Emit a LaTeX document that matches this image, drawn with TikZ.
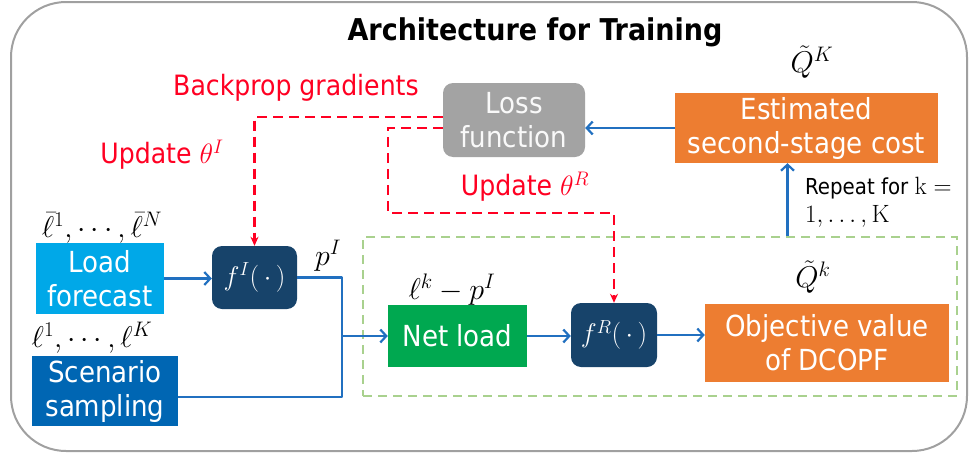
\RequirePackage{fix-cm}
\documentclass[tikz,border=0pt]{standalone}
\usepackage[no-math]{fontspec}
\setmainfont{DejaVu Sans Condensed}
\usetikzlibrary{arrows.meta}

\definecolor{lightblu}{HTML}{00A8E8}
\definecolor{darkblu}{HTML}{0066B3}
\definecolor{navy}{HTML}{17436A}
\definecolor{netgreen}{HTML}{00A850}
\definecolor{orng}{HTML}{ED7D31}
\definecolor{lossgray}{HTML}{A3A3A3}
\definecolor{arrblue}{HTML}{2170C0}
\definecolor{bpred}{HTML}{FF0022}
\definecolor{loopgreen}{HTML}{A9D18E}
\definecolor{framegray}{HTML}{A0A0A0}

\begin{document}
\begin{tikzpicture}
      [x=1pt,y=-1pt,
      %%%%%%%%%%%%%%%%%%%%%%%%%%%%%%
      blk/.style={rectangle,text=white,inner sep=0pt,align=center,
        font=\fontsize{29}{34}\selectfont},
      rblk/.style={blk,rounded corners=10pt},
      mathlbl/.style={inner sep=0pt,font=\fontsize{30}{34}\selectfont},
      redlbl/.style={inner sep=0pt,text=bpred,font=\fontsize{28}{32}\selectfont},
      flow/.style={draw=arrblue,line width=2.2pt,
        -{Straight Barb[length=6pt,width=13pt]}},
      grad/.style={draw=bpred,line width=2.2pt,dash pattern=on 10pt off 6pt,
        -{Stealth[length=9pt,width=8pt]}},
      ]%%%%%%%%%%%%%%%%%%%%%%%%%%%%%%
      \useasboundingbox (0,0) rectangle (970,458);
      \draw[framegray,line width=2pt,rounded corners=55pt] (11,2) rectangle (967,451);

      \node[inner sep=0pt,font=\fontsize{30}{34}\selectfont\bfseries] (title) at (535,32) {Architecture for Training};

      % loop over scenarios
      \node[rectangle,draw=loopgreen,line width=1.6pt,dash pattern=on 9pt off 6pt,
        minimum width=594pt,minimum height=159pt] (loop) at (660,316.5) {};

      \node[blk,fill=lightblu,minimum width=128pt,minimum height=71pt] (load) at (100,278.5) {Load\\forecast};
      \node[blk,fill=darkblu,minimum width=146pt,minimum height=70pt] (scen) at (105,391) {Scenario\\sampling};
      \node[rblk,fill=navy,minimum width=85pt,minimum height=63pt,font=\fontsize{27}{32}\selectfont] (fI) at (254.5,277.5) {$f^I(\,\cdot\,)$};
      \node[blk,fill=netgreen,minimum width=139pt,minimum height=62pt] (net) at (457.5,336) {Net load};
      \node[rblk,fill=navy,minimum width=86pt,minimum height=64pt,font=\fontsize{27}{32}\selectfont] (fR) at (614,335) {$f^R(\,\cdot\,)$};
      \node[blk,fill=orng,minimum width=244pt,minimum height=78pt] (obj) at (827,343) {Objective value\\of DCOPF};
      \node[blk,fill=orng,minimum width=263pt,minimum height=70pt] (est) at (806.5,128) {Estimated\\second-stage cost};
      \node[rblk,fill=lossgray,text=white!95!gray,minimum width=142pt,minimum height=74pt] (loss) at (514,120) {Loss\\function};

      % math labels
      \node[mathlbl] (lbar) at (102,228) {$\bar{\ell}^1,\cdots,\bar{\ell}^N$};
      \node[mathlbl] (lsc) at (92,338) {$\ell^1,\cdots,\ell^K$};
      \node[mathlbl] (pI) at (328,256) {$p^I$};
      \node[mathlbl] (lkp) at (452,290) {$\ell^k-p^I$};
      \node[mathlbl] (Qk) at (813,277) {$\tilde{Q}^k$};
      \node[mathlbl] (QK) at (812,62) {$\tilde{Q}^K$};
      \node[inner sep=0pt,anchor=west,align=left,font=\fontsize{22}{28}\selectfont] (rep) at (805,202)
        {Repeat for \fontsize{25}{28}\selectfont$\mathrm{k}=$\\\fontsize{25}{28}\selectfont$1,\ldots,\mathrm{K}$};

      \node[redlbl] (bp) at (296,88) {Backprop gradients};
      \node[redlbl] (updI) at (162,155) {Update $\theta^I$};
      \node[redlbl] (updR) at (525,187) {Update $\theta^R$};

      % forward path
      \coordinate (jn) at (342,336);
      \coordinate (rA) at (388,213);
      \draw[flow] (load.east) -- (load.east -| fI.west);
      \draw[arrblue,line width=2.2pt,line join=round] (fI.east) -| (jn);
      \draw[arrblue,line width=2.2pt,line join=round] ([yshift=-6pt]scen.east) -| (jn);
      \draw[flow] (jn) -- (net.west);
      \draw[flow] (net.east) -- (net.east -| fR.west);
      \draw[flow] (fR.east) -- (fR.east -| obj.west);
      \draw[flow] ([xshift=-19pt]est.south |- loop.north) -- ([xshift=-19pt]est.south);
      \draw[flow] (est.west) -- (est.west -| loss.east);

      % backprop
      \draw[grad] ([yshift=3pt]loss.west) -| (fI.north);
      \draw[grad] ([yshift=-8pt]loss.west) -| (rA) -| (fR.north);
    \end{tikzpicture}
\end{document}
